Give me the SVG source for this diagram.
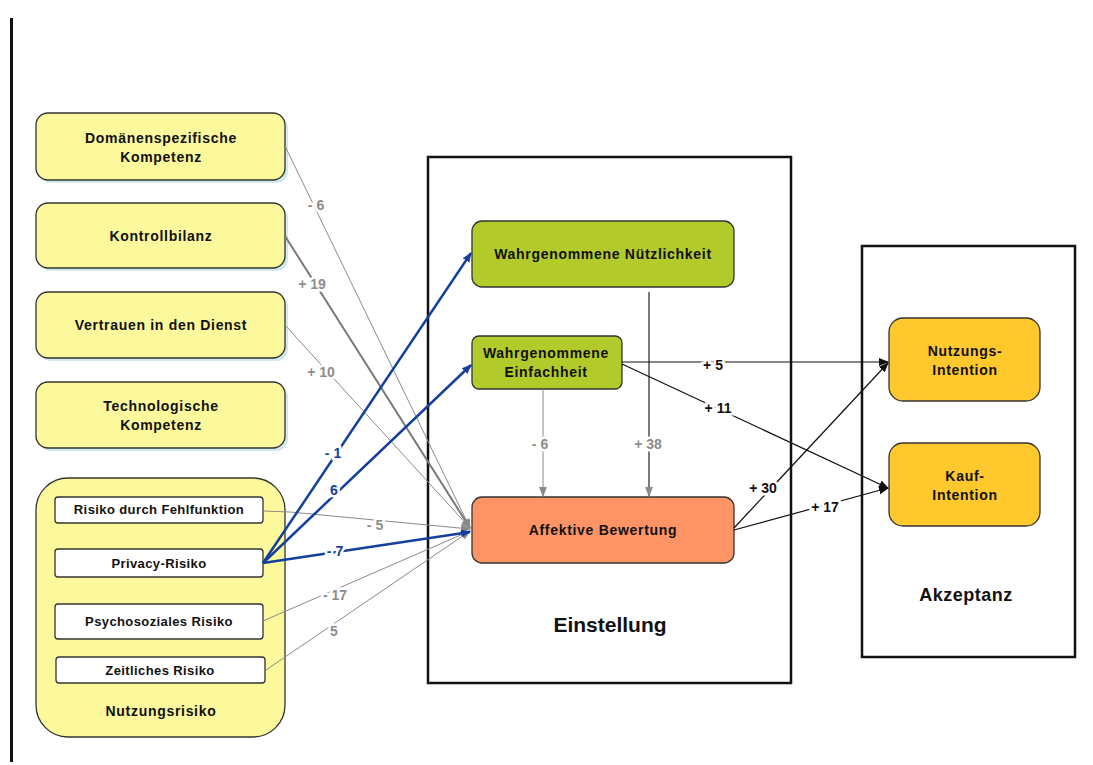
<svg xmlns="http://www.w3.org/2000/svg" width="1093" height="765" viewBox="0 0 1093 765">
<style>
text{font-family:"Liberation Sans",Arial,sans-serif;font-weight:bold;text-anchor:middle}
.nl{font-size:14px;letter-spacing:0.7px;fill:#111}
.sl{font-size:13px;letter-spacing:0.4px;fill:#111}
.sh{fill:#cfe9ee}
.yel{fill:#fcf89c;stroke:#333;stroke-width:1.3}
.wht{fill:#fff;stroke:#333;stroke-width:1.3}
.grn{fill:#b2cb2a;stroke:#333;stroke-width:1.3}
.org{fill:#fe9466;stroke:#333;stroke-width:1.3}
.gld{fill:#ffc82d;stroke:#333;stroke-width:1.3}
.frame{fill:#fff;stroke:#111;stroke-width:2.5}
.g{stroke:#8a8a8a;stroke-width:1;fill:none}
.g2{stroke:#7a7a7a;stroke-width:2;fill:none}
.b{stroke:#143f9e;stroke-width:2.5;fill:none}
.k{stroke:#111;stroke-width:1.2;fill:none}
.lg{font-size:14px;fill:#8c8c8c;stroke:#fff;stroke-width:5;paint-order:stroke}
.lb{font-size:14px;fill:#143f9e;stroke:#fff;stroke-width:5;paint-order:stroke}
.lk{font-size:14px;fill:#111;stroke:#fff;stroke-width:5;paint-order:stroke}
</style>
<defs>
<marker id="ag" markerWidth="10" markerHeight="10" refX="9" refY="5" orient="auto" markerUnits="userSpaceOnUse"><path d="M0,1 L10,5 L0,9 z" fill="#8a8a8a"/></marker>
<marker id="ab" markerWidth="10" markerHeight="10" refX="9" refY="5" orient="auto" markerUnits="userSpaceOnUse"><path d="M0,1 L10,5 L0,9 z" fill="#143f9e"/></marker>
<marker id="ak" markerWidth="10" markerHeight="10" refX="9" refY="5" orient="auto" markerUnits="userSpaceOnUse"><path d="M0,1 L10,5 L0,9 z" fill="#111"/></marker>
</defs>
<rect width="1093" height="765" fill="#fff"/>
<line x1="11.5" y1="18" x2="11.5" y2="762" stroke="#111" stroke-width="3"/>

<g id="einstellung-frame"><rect class="frame" x="428" y="157" width="363" height="526"/><text x="610" y="632" style="font-size:21px;fill:#111">Einstellung</text></g>
<g id="akzeptanz-frame"><rect class="frame" x="862" y="246" width="213" height="411"/><text x="966" y="601" style="font-size:18px;letter-spacing:0.5px;fill:#111">Akzeptanz</text></g>

<g id="domaenenspezifische-kompetenz"><rect class="sh" x="39" y="116" width="249" height="67" rx="12"/><rect class="yel" x="36" y="113" width="249" height="67" rx="12"/><text class="nl" x="161" y="143">Domänenspezifische</text><text class="nl" x="161" y="162">Kompetenz</text></g>
<g id="kontrollbilanz"><rect class="sh" x="39" y="206" width="249" height="65" rx="12"/><rect class="yel" x="36" y="203" width="249" height="65" rx="12"/><text class="nl" x="161" y="241">Kontrollbilanz</text></g>
<g id="vertrauen"><rect class="sh" x="39" y="295" width="249" height="66" rx="12"/><rect class="yel" x="36" y="292" width="249" height="66" rx="12"/><text class="nl" x="161" y="330">Vertrauen in den Dienst</text></g>
<g id="technologische-kompetenz"><rect class="sh" x="39" y="385" width="249" height="66" rx="12"/><rect class="yel" x="36" y="382" width="249" height="66" rx="12"/><text class="nl" x="161" y="411">Technologische</text><text class="nl" x="161" y="430">Kompetenz</text></g>
<g id="nutzungsrisiko">
<rect class="yel" x="36" y="478" width="249" height="259" rx="32"/>
<text class="nl" x="161" y="716">Nutzungsrisiko</text>
<g id="risiko-fehlfunktion"><rect class="wht" x="55" y="497" width="208" height="26" rx="3"/><text class="sl" x="159" y="514">Risiko durch Fehlfunktion</text></g>
<g id="privacy-risiko"><rect class="wht" x="55" y="549" width="208" height="28" rx="3"/><text class="sl" x="159" y="568">Privacy-Risiko</text></g>
<g id="psychosoziales-risiko"><rect class="wht" x="55" y="604" width="208" height="35" rx="3"/><text class="sl" x="159" y="626">Psychosoziales Risiko</text></g>
<g id="zeitliches-risiko"><rect class="wht" x="56" y="657" width="209" height="26" rx="3"/><text class="sl" x="160" y="675">Zeitliches Risiko</text></g>
</g>

<g id="wahrgenommene-nuetzlichkeit"><rect class="grn" x="472" y="221" width="262" height="66" rx="10"/><text class="nl" x="603" y="259">Wahrgenommene Nützlichkeit</text></g>
<g id="wahrgenommene-einfachheit"><rect class="grn" x="472" y="336" width="150" height="53" rx="7"/><text class="nl" x="546" y="358">Wahrgenommene</text><text class="nl" x="546" y="377">Einfachheit</text></g>
<g id="affektive-bewertung"><rect class="org" x="472" y="497" width="262" height="66" rx="10"/><text class="nl" x="603" y="535">Affektive Bewertung</text></g>
<g id="nutzungs-intention"><rect class="gld" x="889" y="318" width="151" height="83" rx="14"/><text class="nl" x="965" y="356">Nutzungs-</text><text class="nl" x="965" y="375">Intention</text></g>
<g id="kauf-intention"><rect class="gld" x="889" y="443" width="151" height="83" rx="14"/><text class="nl" x="965" y="481">Kauf-</text><text class="nl" x="965" y="500">Intention</text></g>

<g id="connectors">
<line class="g" x1="285" y1="146" x2="470" y2="528" marker-end="url(#ag)"/>
<line class="g2" x1="285" y1="236" x2="470" y2="528" marker-end="url(#ag)"/>
<line class="g" x1="285" y1="325" x2="470" y2="528" marker-end="url(#ag)"/>
<polyline class="g" points="263,511 290,512 470,529" marker-end="url(#ag)"/>
<line class="g" x1="263" y1="621" x2="470" y2="531" marker-end="url(#ag)"/>
<line class="g" x1="266" y1="670" x2="470" y2="531" marker-end="url(#ag)"/>
<line class="b" x1="263" y1="563" x2="471" y2="253" marker-end="url(#ab)"/>
<line class="b" x1="263" y1="563" x2="471" y2="365" marker-end="url(#ab)"/>
<line class="b" x1="263" y1="563" x2="470" y2="532" marker-end="url(#ab)"/>
<line class="g" x1="543" y1="389" x2="543" y2="496" marker-end="url(#ag)"/>
<line class="g2" x1="649" y1="292" x2="649" y2="496" marker-end="url(#ag)"/>
<line class="k" x1="622" y1="362" x2="888" y2="362" marker-end="url(#ak)"/>
<line class="k" x1="622" y1="364" x2="888" y2="488" marker-end="url(#ak)"/>
<line class="k" x1="734" y1="528" x2="888" y2="363" marker-end="url(#ak)"/>
<line class="k" x1="734" y1="530" x2="888" y2="488" marker-end="url(#ak)"/>
<text class="lg" x="316" y="210">- 6</text>
<text class="lg" x="312" y="289">+ 19</text>
<text class="lg" x="321" y="377">+ 10</text>
<text class="lg" x="375" y="530">- 5</text>
<text class="lg" x="335" y="600">- 17</text>
<text class="lg" x="334" y="636">5</text>
<text class="lb" x="333" y="458">- 1</text>
<text class="lb" x="334" y="495">6</text>
<text class="lb" x="335" y="556">- 7</text>
<text class="lg" x="540" y="449">- 6</text>
<text class="lg" x="648" y="449">+ 38</text>
<text class="lk" x="713" y="370">+ 5</text>
<text class="lk" x="718" y="413">+ 11</text>
<text class="lk" x="763" y="493">+ 30</text>
<text class="lk" x="825" y="512">+ 17</text>
</g>
</svg>
